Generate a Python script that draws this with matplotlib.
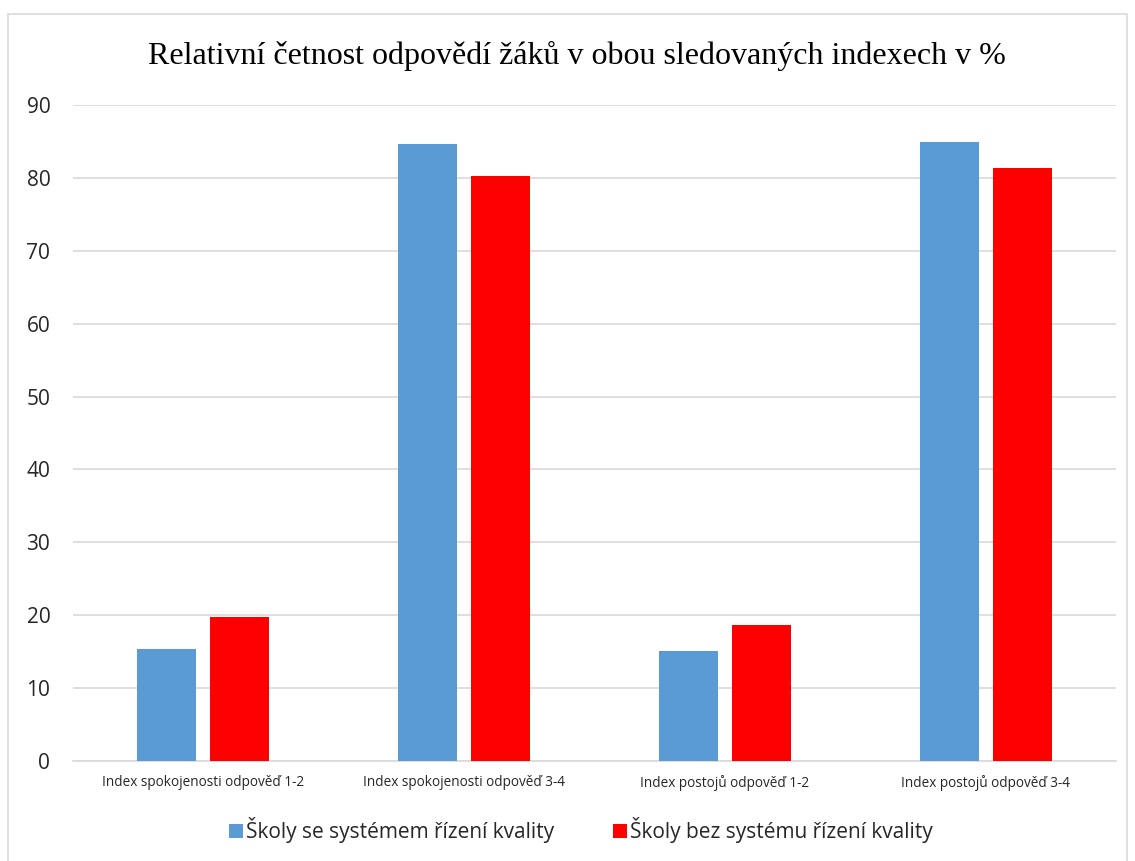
import matplotlib.pyplot as plt
import numpy as np
from matplotlib.patches import Rectangle

# data
categories = ['Index spokojenosti odpověď 1-2', 'Index spokojenosti odpověď 3-4',
              'Index postojů odpověď 1-2', 'Index postojů odpověď 3-4']
se_systemem = [15.4, 84.6, 15.1, 84.9]
bez_systemu = [19.7, 80.3, 18.6, 81.4]
series_names = ['Školy se systémem řízení kvality', 'Školy bez systému řízení kvality']
yticks = np.arange(0, 91, 10)

plt.rcParams['font.family'] = ['Open Sans', 'DejaVu Sans']

fig = plt.figure(figsize=(11.35, 8.61), dpi=100)
W, H = 1135, 861

# chart frame
fig.patches.append(Rectangle((8 / W, -0.01), 1119 / W, (H - 14) / H + 0.01,
                             transform=fig.transFigure, fill=False,
                             edgecolor='#D9D9D9', linewidth=1.2))

ax = fig.add_axes([72.5 / W, 1 - 761 / H, 1044 / W, 656 / H])

x = np.arange(len(categories))
w = 0.226
ax.bar(x - 0.1415, se_systemem, width=w, color='#5B9BD5', label=series_names[0], zorder=3)
ax.bar(x + 0.1415, bez_systemu, width=w, color='#FF0000', label=series_names[1], zorder=3)

ax.set_xlim(-0.5, len(categories) - 0.5)
ax.set_ylim(0, 90)
ax.set_yticks(yticks)
ax.set_xticks(x)
ax.set_xticklabels(categories, fontsize=9.8, color='#262626')
ax.tick_params(axis='y', length=0, pad=16, labelsize=15, labelcolor='#262626')
ax.tick_params(axis='x', length=0, pad=10)
ax.grid(axis='y', color='#D9D9D9', linewidth=1.2, zorder=0)
for s in ['top', 'right', 'left']:
    ax.spines[s].set_visible(False)
ax.spines['bottom'].set_color('#D9D9D9')
ax.spines['bottom'].set_linewidth(1.2)

fig.text(576.5 / W, 1 - 56 / H, 'Relativní četnost odpovědí žáků v obou sledovaných indexech v %',
         family='Liberation Serif', fontsize=23, ha='center', va='center')

ax.legend(loc='center', bbox_to_anchor=(0.487, (761 - 830) / 656), ncol=2,
          frameon=False, fontsize=15, handlelength=0.67, handleheight=0.67,
          handletextpad=0.15, columnspacing=2.8, labelcolor='#262626')

plt.savefig('out.png', dpi=100)
